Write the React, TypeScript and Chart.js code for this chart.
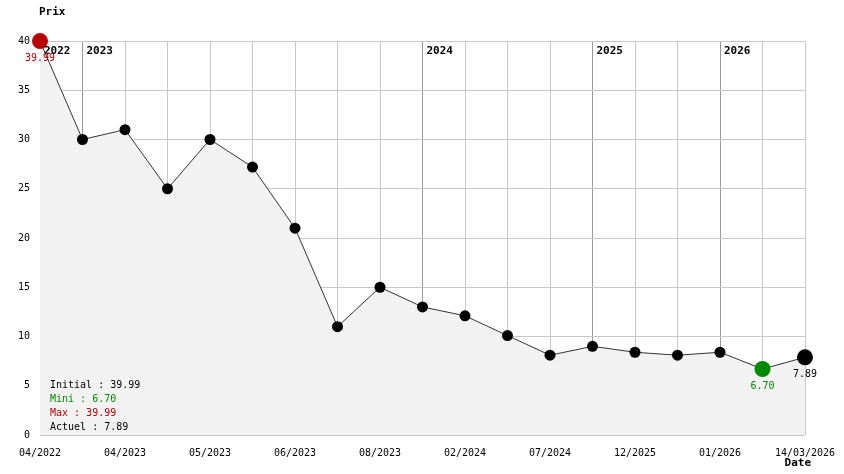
import React, { useEffect, useRef } from "react";
import { Chart, registerables } from "chart.js";

Chart.register(...registerables);

const xLabels: string[] = [
  "04/2022", "", "04/2023", "", "05/2023", "", "06/2023", "", "08/2023", "",
  "02/2024", "", "07/2024", "", "12/2025", "", "01/2026", "", "14/03/2026",
];
const prices: number[] = [
  39.99, 30, 31, 25, 30, 27.2, 21, 11, 15, 13, 12.1, 10.1, 8.1, 9, 8.4, 8.1, 8.4, 6.7, 7.89,
];
const yearIndices: number[] = [0, 1, 9, 13, 16];
const yearLabels: string[] = ["2022", "2023", "2024", "2025", "2026"];
const yTicks: number[] = [0, 5, 10, 15, 20, 25, 30, 35, 40];

const MONO = '"DejaVu Sans Mono", "Liberation Mono", monospace';
const RED = "#b80000";
const GREEN = "#008a00";

export default function App() {
  const ref = useRef<HTMLCanvasElement>(null);
  useEffect(() => {
    if (!ref.current) return;
    const maxV = Math.max(...prices);
    const minV = Math.min(...prices);
    const maxIdx = prices.indexOf(maxV);
    const minIdx = prices.indexOf(minV);
    const lastIdx = prices.length - 1;
    const initial = prices[0];
    const last = prices[lastIdx];

    const textPlugin = {
      id: "texts",
      afterDatasetsDraw(chart: any) {
        const ctx = chart.ctx;
        const xs = chart.scales.x;
        const ys = chart.scales.y;
        const ca = chart.chartArea;
        ctx.save();
        ctx.font = `bold 11px ${MONO}`;
        ctx.fillStyle = "#000";
        ctx.textAlign = "left";
        ctx.textBaseline = "middle";
        yearIndices.forEach((idx, k) => {
          const x = xs.getPixelForValue(idx);
          ctx.fillText(yearLabels[k], x + 4, ca.top + 10);
        });
        ctx.fillText("Prix", 39, 12);
        ctx.textAlign = "right";
        ctx.fillText("Date", 811, 463);
        ctx.font = `10px ${MONO}`;
        ctx.textAlign = "center";
        const lbl = (idx: number, color: string) => {
          ctx.fillStyle = color;
          ctx.fillText(
            prices[idx].toFixed(2),
            xs.getPixelForValue(idx),
            ys.getPixelForValue(prices[idx]) + 17
          );
        };
        lbl(maxIdx, RED);
        lbl(minIdx, GREEN);
        lbl(lastIdx, "#000");
        ctx.textAlign = "left";
        const lines: [string, string][] = [
          [`Initial : ${initial.toFixed(2)}`, "#000"],
          [`Mini : ${minV.toFixed(2)}`, GREEN],
          [`Max : ${maxV.toFixed(2)}`, RED],
          [`Actuel : ${last.toFixed(2)}`, "#000"],
        ];
        lines.forEach(([t, c], i) => {
          ctx.fillStyle = c;
          ctx.fillText(t, ca.left + 10, ca.bottom - 50 + i * 14);
        });
        ctx.restore();
      },
    };

    const chart = new Chart(ref.current, {
      type: "line",
      data: {
        labels: xLabels,
        datasets: [
          {
            data: prices,
            borderColor: "#333333",
            borderWidth: 1,
            tension: 0,
            clip: false,
            fill: "origin",
            backgroundColor: "#f2f2f2",
            pointRadius: (c: any) =>
              c.dataIndex === maxIdx || c.dataIndex === minIdx || c.dataIndex === lastIdx ? 8 : 5.5,
            pointBackgroundColor: (c: any) =>
              c.dataIndex === maxIdx ? RED : c.dataIndex === minIdx ? GREEN : "#000",
            pointBorderWidth: 0,
            pointHoverRadius: 8,
          },
        ],
      },
      options: {
        responsive: false,
        animation: false,
        layout: { padding: { top: 41, right: 39, left: 0, bottom: 0 } },
        plugins: { legend: { display: false }, tooltip: { enabled: false } },
        events: [],
        scales: {
          x: {
            type: "category",
            offset: false,
            border: { display: false },
            grid: {
              drawTicks: false,
              lineWidth: 1,
              color: (c: any) => (yearIndices.includes(c.index) ? "#999999" : "#c8c8c8"),
            },
            ticks: {
              autoSkip: false,
              maxRotation: 0,
              minRotation: 0,
              padding: 12,
              color: "#000",
              font: { family: MONO, size: 10 },
              callback: (_v: any, i: number) => xLabels[i],
            },
            afterFit: (s: any) => {
              s.height = 39;
              s.paddingLeft = 0;
              s.paddingRight = 0;
            },
          },
          y: {
            min: 0,
            max: 40,
            border: { display: false },
            grid: { drawTicks: false, color: "#c8c8c8", lineWidth: 1 },
            afterBuildTicks: (s: any) => {
              s.ticks = yTicks.map((v) => ({ value: v }));
            },
            ticks: {
              padding: 10,
              color: "#000",
              font: { family: MONO, size: 10 },
              callback: (v: any) => String(v),
            },
            afterFit: (s: any) => {
              s.width = 40;
            },
          },
        },
      },
      plugins: [textPlugin],
    } as any);
    return () => chart.destroy();
  }, []);
  return (
    <div style={{ position: "absolute", left: 0, top: 0, width: 844, height: 474, background: "#fff" }}>
      <canvas ref={ref} width={844} height={474} />
    </div>
  );
}
